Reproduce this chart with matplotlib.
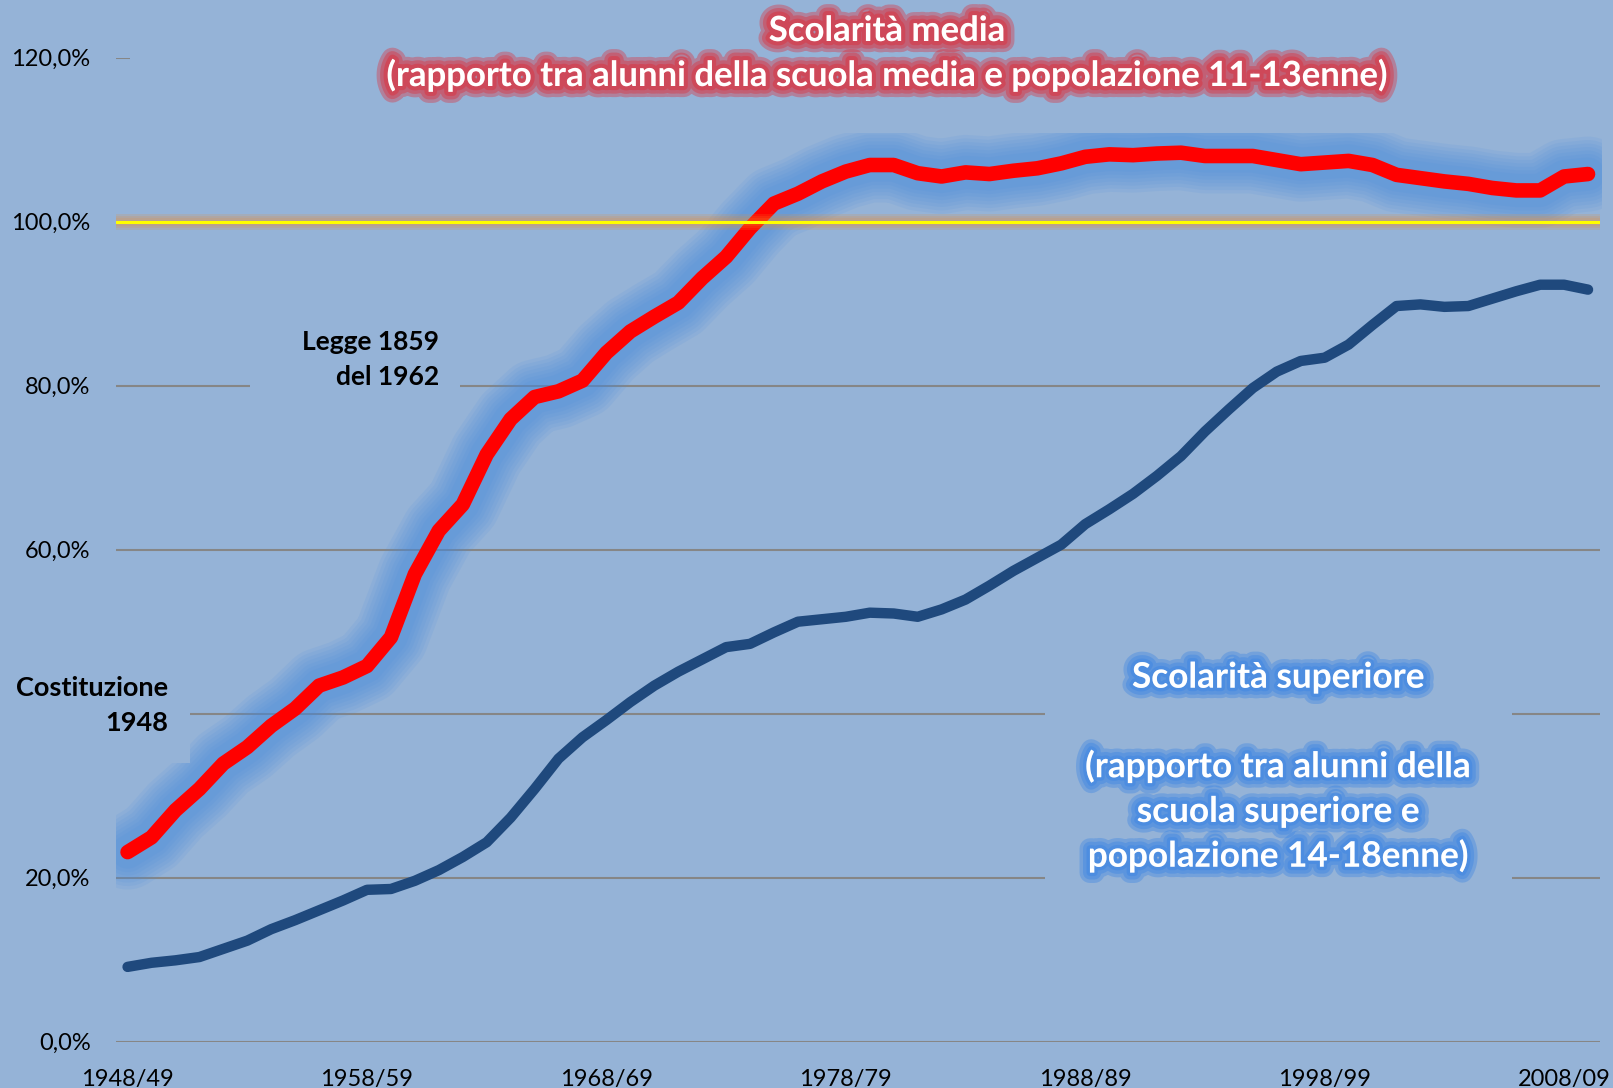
import matplotlib
matplotlib.use("Agg")
import matplotlib.patches
import matplotlib.patheffects
import matplotlib.pyplot
import matplotlib.ticker
import numpy

# Values, one per school year (percent)
YEARS = list(range(1948, 2010))
SCHOOL_YEARS = ["{0}/{1:02d}".format(year, (year + 1) % 100) for year in YEARS]
SCUOLA_MEDIA = [
    23.1, 24.9, 28.2, 30.8, 33.9, 35.9, 38.5, 40.6, 43.4, 44.4,
    45.8, 49.3, 57.0, 62.3, 65.5, 71.6, 75.9, 78.6, 79.3, 80.6,
    84.0, 86.6, 88.4, 90.1, 93.1, 95.7, 99.2, 102.2, 103.4, 104.9,
    106.1, 106.9, 106.9, 105.9, 105.5, 106.0, 105.8, 106.2, 106.5, 107.1,
    107.9, 108.2, 108.1, 108.3, 108.4, 108.0, 108.0, 108.0, 107.5, 107.0,
    107.2, 107.4, 106.9, 105.7, 105.3, 104.9, 104.6, 104.1, 103.8, 103.8,
    105.5, 105.8,
]
SCUOLA_SUPERIORE = [
    9.1, 9.6, 9.9, 10.3, 11.3, 12.3, 13.7, 14.8, 16.0, 17.2,
    18.5, 18.6, 19.6, 20.9, 22.5, 24.3, 27.3, 30.8, 34.5, 37.1,
    39.2, 41.4, 43.4, 45.1, 46.6, 48.1, 48.5, 49.9, 51.2, 51.5,
    51.8, 52.3, 52.2, 51.8, 52.7, 53.9, 55.6, 57.4, 59.0, 60.6,
    63.1, 64.9, 66.8, 69.0, 71.4, 74.4, 77.1, 79.7, 81.7, 83.0,
    83.4, 85.0, 87.4, 89.7, 89.9, 89.6, 89.7, 90.6, 91.5, 92.3,
    92.3, 91.7,
]
Y_TICKS = [0, 20, 40, 60, 80, 100, 120]
LABEL_STEP = 10
FULL_SCHOOLING = 100.0

TITLE_LINES = ["Scolarità media", "(rapporto tra alunni della scuola media e popolazione 11-13enne)"]
SUPERIORE_LINES = ["Scolarità superiore", "", "(rapporto tra alunni della", "scuola superiore e", "popolazione 14-18enne)"]
LEGGE_LINES = ["Legge 1859", "del 1962"]
COSTITUZIONE_LINES = ["Costituzione", "1948"]

WIDTH, HEIGHT, DPI = 1613, 1088, 100
BACKGROUND = "#95b3d7"
GRID = "#868686"

matplotlib.pyplot.rcParams["font.family"] = ["Lato", "DejaVu Sans"]


def frac(x, y):
    # pixel position (from top left) to figure fraction
    return x / WIDTH, 1.0 - y / HEIGHT


def glow(color, widths, alpha):
    effects = [matplotlib.patheffects.Stroke(linewidth=w, foreground=color, alpha=alpha, joinstyle="round")
               for w in widths]
    return effects + [matplotlib.patheffects.Normal()]


def write(lines, x, baseline, step, ha, **kwargs):
    for n, line in enumerate(lines):
        if line:
            figure.text(*frac(x, baseline + n * step), line, ha=ha, va="baseline", **kwargs)


def mask(x0, y0, x1, y1, on_figure=False):
    # plain background box, hides what lies under a text block
    left, top = frac(x0, y0)
    right, bottom = frac(x1, y1)
    box = matplotlib.patches.Rectangle((left, bottom), right - left, top - bottom,
                                       transform=figure.transFigure, facecolor=BACKGROUND,
                                       edgecolor="none", zorder=2.5)
    if on_figure:
        box.set_zorder(1)
        figure.add_artist(box)
    else:
        axes.add_patch(box)


# Configure plot
figure = matplotlib.pyplot.figure(figsize=(WIDTH / DPI, HEIGHT / DPI), dpi=DPI, facecolor=BACKGROUND)
left, bottom = frac(115.6, 1041.5)
right, top = frac(1600, 57.6)
axes = figure.add_axes([left, bottom, right - left, top - bottom])
axes.set_facecolor(BACKGROUND)
x = numpy.arange(len(SCHOOL_YEARS))
axes.set_xlim(-0.5, len(SCHOOL_YEARS) - 0.5)
axes.set_ylim(Y_TICKS[0], Y_TICKS[-1])
axes.set_yticks(Y_TICKS)
axes.yaxis.set_major_formatter(matplotlib.ticker.FuncFormatter(lambda v, p: "{0:.1f}%".format(v).replace(".", ",")))
axes.set_xticks(x[::LABEL_STEP])
axes.set_xticklabels(SCHOOL_YEARS[::LABEL_STEP])
axes.tick_params(axis="both", length=0, labelsize=17, labelcolor="black")
axes.tick_params(axis="x", pad=20)
axes.tick_params(axis="y", pad=18)
for spine in axes.spines.values():
    spine.set_visible(False)
axes.yaxis.grid(True, color=GRID, linewidth=1.5)
axes.set_axisbelow(True)

# Scolarità media with its blue glow
clip = matplotlib.patches.Rectangle((-0.5, 0), len(SCHOOL_YEARS) + 0.1, 110.75, transform=axes.transData)
for width in (54, 49, 44, 39, 34, 29, 24):
    halo, = axes.plot(x, SCUOLA_MEDIA, color="#468ce1", linewidth=width, alpha=0.105,
                      solid_capstyle="round", solid_joinstyle="round", zorder=2)
    halo.set_clip_path(clip)
axes.plot(x, SCUOLA_MEDIA, color="#ff0000", linewidth=10.5, solid_capstyle="round",
          solid_joinstyle="round", zorder=4)

# Scolarità superiore
axes.plot(x, SCUOLA_SUPERIORE, color="#1f497d", linewidth=7.5, solid_capstyle="round",
          solid_joinstyle="round", zorder=3)

# 100% reference line
for width in (11.5, 8.6, 5.8):
    axes.axhline(FULL_SCHOOLING, color="#f08c28", linewidth=width, alpha=0.16, zorder=5)
axes.axhline(FULL_SCHOOLING, color="#ffff00", linewidth=2.2, zorder=6)

# Text blocks
mask(130, 10, WIDTH, 110)
mask(250, 305, 460, 400)
mask(0, 640, 190, 763, on_figure=True)
mask(1045, 640, 1512, 890)
write(TITLE_LINES, 887, 41, 45, "center", fontsize=25, fontweight="bold", color="white",
      path_effects=glow("#e81c24", (16, 11, 6), 0.33))
write(SUPERIORE_LINES, 1278, 687.7, 44.75, "center", fontsize=25.3, fontweight="bold", color="white",
      path_effects=glow("#2f7fe6", (15, 10, 5), 0.33))
write(LEGGE_LINES, 439, 350, 35, "right", fontsize=19, fontweight="bold", color="black")
write(COSTITUZIONE_LINES, 168.3, 695.7, 35.3, "right", fontsize=19.5, fontweight="bold", color="black")

# Save plot
figure.savefig("out.png", dpi=DPI, facecolor=BACKGROUND)
